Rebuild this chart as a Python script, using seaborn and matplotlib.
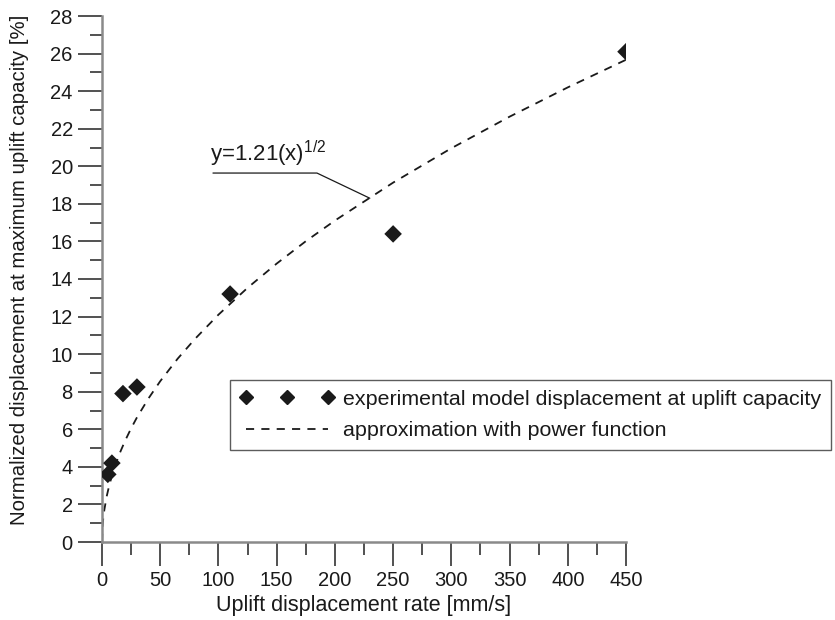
import matplotlib
matplotlib.use("Agg")
import matplotlib.pyplot as plt
import seaborn as sns
import pandas as pd
from matplotlib.lines import Line2D

# Experimental data
rate = [5, 8.5, 18, 30, 110, 250, 450]
disp = [3.6, 4.2, 7.9, 8.25, 13.2, 16.4, 26.1]

# Approximation curve y = 1.21 x^(1/2)
curve_x = [0, 0.5, 1, 2, 4, 6, 9, 12, 16, 20, 25, 30, 40, 50, 65, 80, 100,
           125, 150, 175, 200, 250, 300, 350, 400, 450]
curve_y = [0, 0.86, 1.21, 1.71, 2.42, 2.96, 3.63, 4.19, 4.84, 5.41, 6.05, 6.63,
           7.65, 8.56, 9.76, 10.82, 12.1, 13.53, 14.82, 16.01, 17.11, 19.13,
           20.96, 22.64, 24.2, 25.67]

x_ticks = [0, 50, 100, 150, 200, 250, 300, 350, 400, 450]
y_ticks = [0, 2, 4, 6, 8, 10, 12, 14, 16, 18, 20, 22, 24, 26, 28]

x_label = "Uplift displacement rate [mm/s]"
y_label = "Normalized displacement at maximum uplift capacity [%]"
leg_points = "experimental model displacement at uplift capacity"
leg_curve = "approximation with power function"
equation = r"y=1.21(x)$^{1/2}$"

sns.set_theme(style="ticks")
plt.rcParams["font.family"] = ["Liberation Sans", "DejaVu Sans"]
plt.rcParams["mathtext.fontset"] = "custom"
plt.rcParams["mathtext.rm"] = "Liberation Sans"
plt.rcParams["mathtext.it"] = "Liberation Sans:italic"
plt.rcParams["mathtext.bf"] = "Liberation Sans:bold"

fig = plt.figure(figsize=(8.35, 6.2), dpi=100)
ax = fig.add_axes([102 / 835, 1 - 542 / 620, 524 / 835, 526 / 620])

df_pts = pd.DataFrame({"x": rate, "y": disp})
df_curve = pd.DataFrame({"x": curve_x, "y": curve_y})

dash = (0, (4.5, 4))
sns.lineplot(data=df_curve, x="x", y="y", ax=ax, color="#1a1a1a", lw=1.3,
             linestyle=dash, sort=False, zorder=2)
sns.scatterplot(data=df_pts, x="x", y="y", ax=ax, marker="D", s=80,
                color="#1a1a1a", edgecolor="none", zorder=3)

ax.set_xlim(0, 450)
ax.set_ylim(0, 28)
ax.set_xticks(x_ticks)
ax.set_yticks(y_ticks)
ax.set_xticks([25 + 50 * i for i in range(9)], minor=True)
ax.set_yticks([1 + 2 * i for i in range(14)], minor=True)

ax.tick_params(axis="both", which="major", length=17, width=1.2, color="#333333",
               labelsize=14.5, pad=4, labelcolor="#1a1a1a")
ax.tick_params(axis="both", which="minor", length=9, width=1.2, color="#333333")
ax.set_xlabel(x_label, fontsize=15.5, color="#1a1a1a")
ax.set_ylabel(y_label, fontsize=14.7, color="#1a1a1a")
ax.xaxis.set_label_coords(0.5, -(606 - 542) / 526 + 0.0)
ax.xaxis.label.set_va("center")
ax.yaxis.set_label_coords(-(102 - 20) / 524, (542 - 270) / 526)
ax.yaxis.label.set_va("center")

for s in ["top", "right"]:
    ax.spines[s].set_visible(False)
for s in ["left", "bottom"]:
    ax.spines[s].set_color("#8a8a8a")
    ax.spines[s].set_linewidth(1.8)

# Annotation with leader line
ax.plot([95.3, 184.6, 230], [19.64, 19.64, 18.3], color="#1a1a1a", lw=0.9,
        zorder=2)
ax.text(92.5, 20.25, equation, fontsize=16, color="#1a1a1a",
        ha="left", va="baseline")

handles = [
    Line2D([], [], marker="D", color="#1a1a1a", linestyle="none",
           markersize=7),
    Line2D([], [], color="#1a1a1a", lw=1.3, linestyle=dash),
]
leg = ax.legend(handles, [leg_points, leg_curve], loc="upper left",
                bbox_to_anchor=(230 / 835, 1 - 380 / 620),
                bbox_transform=fig.transFigure, numpoints=3,
                handlelength=4.45, fontsize=15.4, frameon=True, fancybox=False,
                edgecolor="#333333", borderpad=0.45, labelspacing=0.58,
                handletextpad=0.4, borderaxespad=0)
leg.get_frame().set_linewidth(1.0)
for t in leg.get_texts():
    t.set_color("#1a1a1a")

fig.savefig("out.png", dpi=100)
